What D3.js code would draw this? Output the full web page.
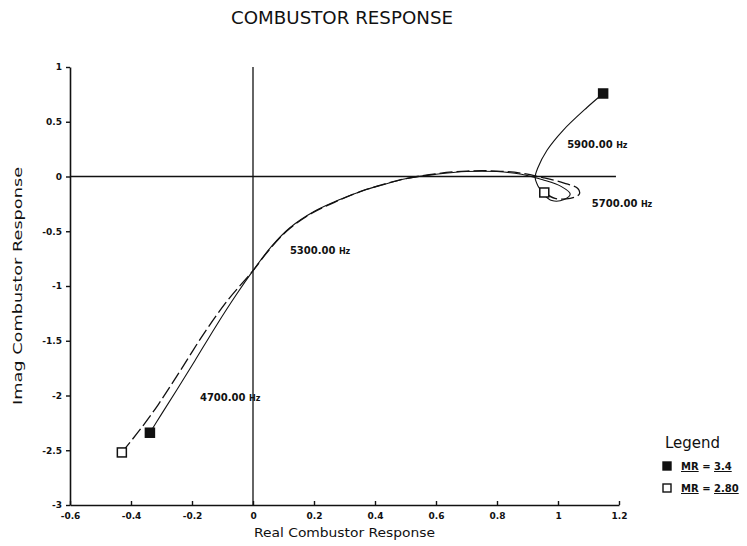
<!DOCTYPE html>
<html>
<head>
<meta charset="utf-8">
<script src="https://cdn.jsdelivr.net/npm/d3@7"></script>
<style>
  html, body { margin: 0; padding: 0; background: #fff; }
  svg { display: block; }
  text { font-family: "DejaVu Sans", sans-serif; fill: #111; }
</style>
</head>
<body>
<svg id="chart" width="747" height="546"></svg>
<script>
// Axis ticks
const xTicks = [-0.6, -0.4, -0.2, 0, 0.2, 0.4, 0.6, 0.8, 1, 1.2];
const xTickLabels = ["-0.6", "-0.4", "-0.2", "0", "0.2", "0.4", "0.6", "0.8", "1", "1.2"];
const yTicks = [1, 0.5, 0, -0.5, -1, -1.5, -2, -2.5, -3];
const yTickLabels = ["1", "0.5", "0", "-0.5", "-1", "-1.5", "-2", "-2.5", "-3"];

// Combustor response locus, MR = 3.4 (4700 Hz .. 5900 Hz)
const mr34Re = [-0.338, -0.30, -0.25, -0.19, -0.12, -0.055, 0.0, 0.06, 0.12, 0.20, 0.285, 0.36, 0.42, 0.50,
                0.60, 0.70, 0.80, 0.88, 0.95, 1.01, 1.04, 1.02, 0.98, 0.955, 0.935, 0.925, 0.934, 0.964,
                1.016, 1.095, 1.148];
const mr34Im = [-2.34, -2.17, -1.95, -1.68, -1.36, -1.08, -0.86, -0.64, -0.47, -0.32, -0.21, -0.13, -0.08, -0.02,
                0.02, 0.045, 0.045, 0.02, -0.03, -0.09, -0.16, -0.21, -0.22, -0.17, -0.09, -0.01, 0.08, 0.24,
                0.42, 0.63, 0.758];

// Combustor response locus, MR = 2.80 (4700 Hz .. 5700 Hz)
const mr280Re = [-0.43, -0.37, -0.31, -0.24, -0.16, -0.08, 0.0, 0.05, 0.11, 0.19, 0.28, 0.36, 0.43, 0.50,
                 0.60, 0.70, 0.80, 0.88, 0.95, 1.02, 1.065, 1.07, 1.04, 0.99, 0.955];
const mr280Im = [-2.52, -2.31, -2.08, -1.78, -1.43, -1.12, -0.86, -0.68, -0.50, -0.34, -0.22, -0.13, -0.07, -0.02,
                 0.025, 0.05, 0.05, 0.03, -0.01, -0.06, -0.11, -0.16, -0.2, -0.2, -0.146];

// Frequency annotations (text, real, imag of the label anchor)
const freqText = ["4700.00 Hz", "5300.00 Hz", "5900.00 Hz", "5700.00 Hz"];
const freqRe = [-0.174, 0.121, 1.03, 1.111];
const freqIm = [-2.05, -0.71, 0.256, -0.283];

// Legend entries
const legendNames = ["3.4", "2.80"];

const svg = d3.select("#chart");

const x = d3.scaleLinear().domain([-0.6, 1.2]).range([70, 619]);
const y = d3.scaleLinear().domain([-3, 1]).range([505, 67]);

// Title
svg.append("text")
  .attr("x", 342).attr("y", 24)
  .attr("text-anchor", "middle")
  .attr("font-size", 17)
  .attr("textLength", 222).attr("lengthAdjust", "spacingAndGlyphs")
  .text("COMBUSTOR RESPONSE");

// Axes
const xAxis = d3.axisBottom(x)
  .tickValues(xTicks)
  .tickFormat((d, i) => xTickLabels[i])
  .tickSizeInner(-4).tickSizeOuter(0).tickPadding(8);
const yAxis = d3.axisLeft(y)
  .tickValues(yTicks)
  .tickFormat((d, i) => yTickLabels[i])
  .tickSizeInner(4).tickSizeOuter(0).tickPadding(4);

const gx = svg.append("g").attr("transform", `translate(0,${y(-3)})`).call(xAxis);
const gy = svg.append("g").attr("transform", `translate(${x(-0.6)},0)`).call(yAxis);
[gx, gy].forEach(g => {
  g.select(".domain").attr("stroke", "#111").attr("stroke-width", 1.6);
  g.selectAll(".tick line").attr("stroke", "#111").attr("stroke-width", 1.4);
  g.selectAll(".tick text")
    .attr("font-family", "DejaVu Sans, sans-serif")
    .attr("font-size", 9).attr("font-weight", "bold").attr("fill", "#111");
});

// Zero reference lines
svg.append("line")
  .attr("x1", x(-0.6)).attr("x2", x(1.19))
  .attr("y1", y(0)).attr("y2", y(0))
  .attr("stroke", "#111").attr("stroke-width", 1.3);
svg.append("line")
  .attr("x1", x(0)).attr("x2", x(0))
  .attr("y1", y(1)).attr("y2", y(-3))
  .attr("stroke", "#111").attr("stroke-width", 1.3);

// Axis titles
svg.append("text")
  .attr("x", (x.range()[0] + x.range()[1]) / 2).attr("y", 537)
  .attr("text-anchor", "middle").attr("font-size", 12)
  .attr("textLength", 181).attr("lengthAdjust", "spacingAndGlyphs")
  .text("Real Combustor Response");
svg.append("text")
  .attr("transform", `translate(22,${(y.range()[0] + y.range()[1]) / 2}) rotate(-90)`)
  .attr("text-anchor", "middle").attr("font-size", 12)
  .attr("textLength", 238).attr("lengthAdjust", "spacingAndGlyphs")
  .text("Imag Combustor Response");

// Response curves
const line = d3.line()
  .x(d => x(d[0])).y(d => y(d[1]))
  .curve(d3.curveCatmullRom.alpha(0.5));

const mr34 = mr34Re.map((r, i) => [r, mr34Im[i]]);
const mr280 = mr280Re.map((r, i) => [r, mr280Im[i]]);

svg.append("path").datum(mr280)
  .attr("d", line).attr("fill", "none")
  .attr("stroke", "#111").attr("stroke-width", 1.3)
  .attr("stroke-dasharray", "13,4");
svg.append("path").datum(mr34)
  .attr("d", line).attr("fill", "none")
  .attr("stroke", "#111").attr("stroke-width", 1.1);

// End markers
const sq = 9;
function marker(pt, filled) {
  svg.append("rect")
    .attr("x", x(pt[0]) - sq / 2).attr("y", y(pt[1]) - sq / 2)
    .attr("width", sq).attr("height", sq)
    .attr("fill", filled ? "#111" : "#fff")
    .attr("stroke", "#111").attr("stroke-width", 1.5);
}
marker(mr34[0], true);
marker(mr34[mr34.length - 1], true);
marker(mr280[0], false);
marker(mr280[mr280.length - 1], false);

// Frequency labels
freqText.forEach((t, i) => {
  const tx = svg.append("text")
    .attr("x", x(freqRe[i])).attr("y", y(freqIm[i]))
    .attr("font-size", 10).attr("font-weight", "bold");
  const parts = t.split(" ");
  tx.append("tspan").text(parts[0] + " ");
  tx.append("tspan").attr("font-size", 8).text(parts[1]);
});

// Legend
svg.append("text")
  .attr("x", 665).attr("y", 448)
  .attr("font-size", 15)
  .text("Legend");
legendNames.forEach((n, i) => {
  const cy = 466 + i * 22;
  svg.append("rect")
    .attr("x", 663).attr("y", cy - 4)
    .attr("width", 8).attr("height", 8)
    .attr("fill", i === 0 ? "#111" : "#fff")
    .attr("stroke", "#111").attr("stroke-width", 1.4);
  const t = svg.append("text")
    .attr("x", 681).attr("y", cy + 4)
    .attr("font-size", 10).attr("font-weight", "bold");
  t.append("tspan").attr("text-decoration", "underline").text("MR");
  t.append("tspan").text(" = ");
  t.append("tspan").attr("text-decoration", "underline").text(n);
});
</script>
</body>
</html>
